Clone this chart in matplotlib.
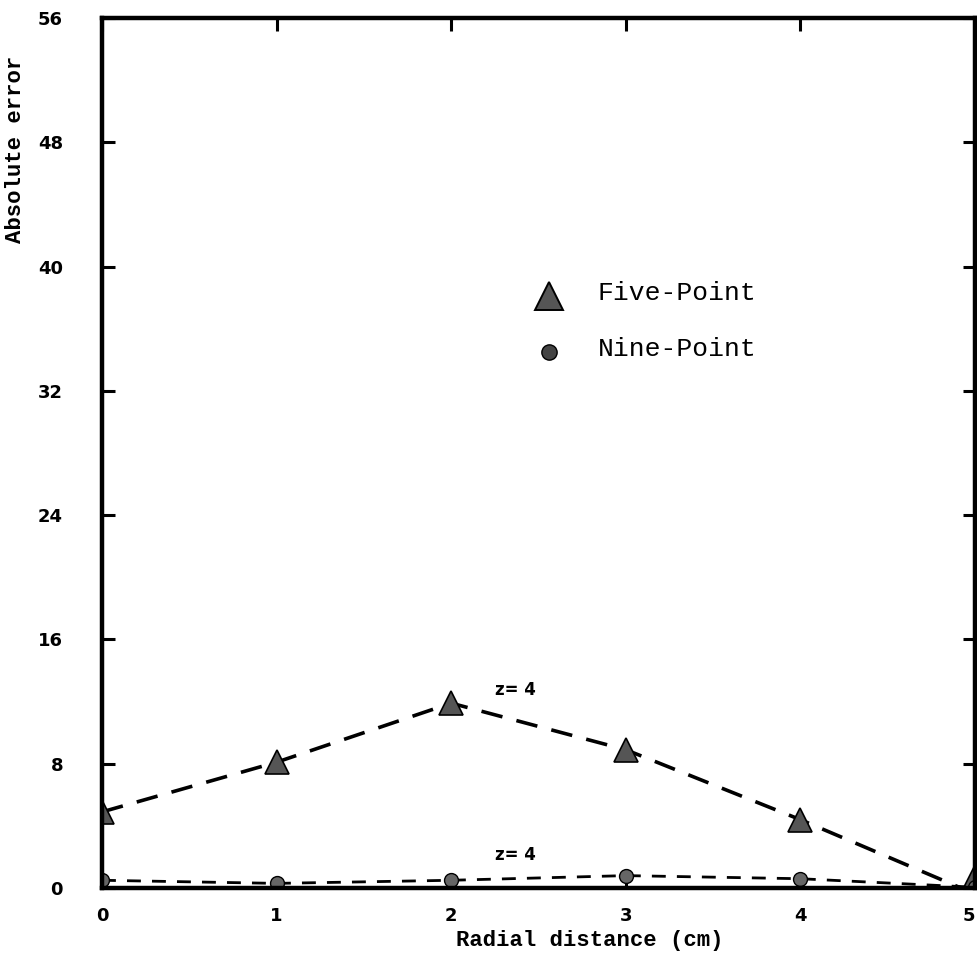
import numpy as np
import matplotlib
matplotlib.use("Agg")
from matplotlib import pyplot as plt

# radial positions (cm) and absolute errors at z = 4
radius = [0, 1, 2, 3, 4, 5]
five_point = [4.9, 8.1, 11.9, 8.9, 4.4, 0.7]
nine_point = [0.5, 0.3, 0.5, 0.8, 0.6, 0.05]

y_ticks = [0, 8, 16, 24, 32, 40, 48, 56]
x_ticks = [0, 1, 2, 3, 4, 5]

mono = "Liberation Mono"

fig = plt.figure(figsize=(9.77, 9.66), dpi=100)
ax = fig.add_axes([0.1044, 0.0807, 0.8936, 0.9007])

# five-point curve: the dashed line ends just before r = 5, marker sits on the axis
ax.plot(radius[:-1] + [4.92], five_point[:-1] + [0.0], color="black", lw=2.6,
        dashes=(6, 4))
ax.plot(radius, five_point, ls="none", marker="^", ms=17, mfc="#555555",
        mec="black", mew=1.2)

ax.plot(radius, nine_point, color="black", lw=2.0, dashes=(5, 4))
ax.plot(radius, nine_point, ls="none", marker="o", ms=10, mfc="#666666",
        mec="black", mew=1.0)

ax.text(2.25, 12.4, "z= 4", fontsize=12, fontweight="bold", family="DejaVu Sans")
ax.text(2.25, 1.8, "z= 4", fontsize=12, fontweight="bold", family="DejaVu Sans")

# legend drawn by hand inside the plot
ax.plot([2.56], [38.1], ls="none", marker="^", ms=20, mfc="#555555", mec="black", mew=1.4)
ax.plot([2.56], [34.5], ls="none", marker="o", ms=11, mfc="#444444", mec="black", mew=1.0)
ax.text(2.84, 38.3, "Five-Point", fontsize=19, family=mono, va="center")
ax.text(2.84, 34.7, "Nine-Point", fontsize=19, family=mono, va="center")

ax.set_xlim(0, 5)
ax.set_ylim(0, 56)
ax.set_xticks(x_ticks)
ax.set_yticks(y_ticks)
ax.set_xticklabels([str(v) for v in x_ticks], fontsize=13, fontweight="bold")
ax.set_yticklabels([str(v) for v in y_ticks], fontsize=13, fontweight="bold")
ax.get_xticklabels()[-1].set_horizontalalignment("right")
ax.tick_params(axis="both", direction="in", length=9, width=2.2,
               top=True, right=True)
ax.tick_params(axis="y", pad=28)
ax.tick_params(axis="x", pad=14)

for sp in ax.spines.values():
    sp.set_linewidth(3.2)

fig.text(0.604, 0.026, "Radial distance (cm)", fontsize=16, family=mono,
         fontweight="bold", ha="center", va="center")
fig.text(0.016, 0.845, "Absolute error", fontsize=16, family=mono,
         fontweight="bold", rotation=90, ha="center", va="center")

fig.savefig("out.png", dpi=100)
